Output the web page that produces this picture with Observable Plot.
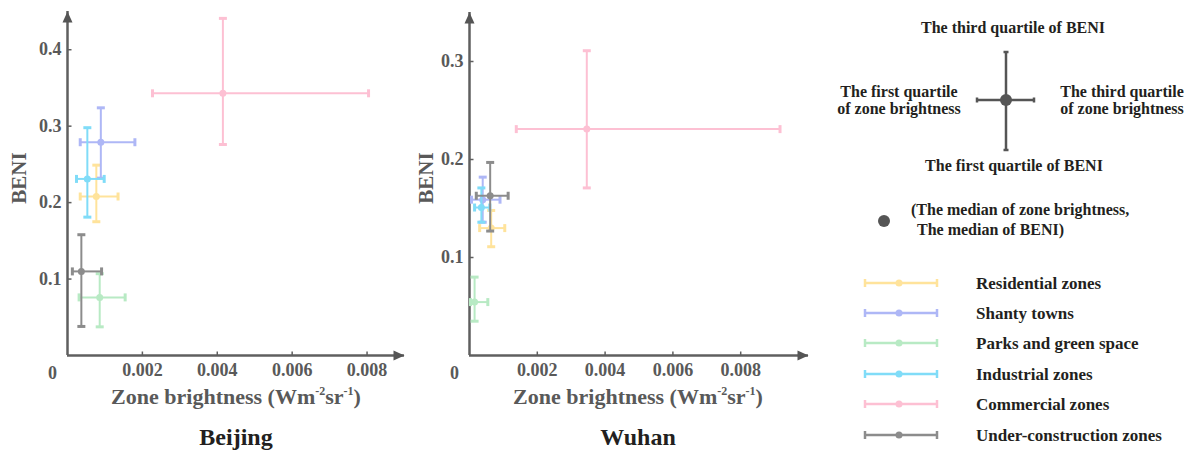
<!DOCTYPE html>
<html>
<head>
<meta charset="utf-8">
<script src="https://cdn.jsdelivr.net/npm/d3@7"></script>
<script src="https://cdn.jsdelivr.net/npm/@observablehq/plot@0.6"></script>
<style>
  html, body { margin: 0; padding: 0; background: #fff; }
  #wrap { position: relative; width: 1191px; height: 452px; overflow: hidden; font-family: "Liberation Serif", "Times New Roman", serif; }
  #wrap > div.p { position: absolute; top: 0; }
  #overlay { position: absolute; left: 0; top: 0; pointer-events: none; }
</style>
</head>
<body>
<div id="wrap">
  <div class="p" id="beijing" style="left:0px"></div>
  <div class="p" id="wuhan" style="left:420px"></div>
  <svg id="overlay" width="1191" height="452"></svg>
</div>
<script>
// ---- data ----
const categories = ["Residential zones", "Shanty towns", "Parks and green space", "Industrial zones", "Commercial zones", "Under-construction zones"];
const colors = ["#FFE39B", "#AEB7F6", "#B8EAC4", "#80DCF8", "#FDC0D3", "#8C8C8C"];

// Beijing
const bjMedX = [0.00077, 0.00089, 0.00086, 0.00053, 0.00415, 0.00037];
const bjQ1X  = [0.00034, 0.00034, 0.00031, 0.00024, 0.00227, 0.00013];
const bjQ3X  = [0.00135, 0.00180, 0.00154, 0.00098, 0.00804, 0.00091];
const bjMedY = [0.208, 0.279, 0.076, 0.231, 0.343, 0.110];
const bjQ1Y  = [0.175, 0.232, 0.0375, 0.181, 0.276, 0.038];
const bjQ3Y  = [0.249, 0.324, 0.107, 0.298, 0.441, 0.158];

// Wuhan
const whMedX = [0.00064, 0.00039, 0.00015, 0.00035, 0.00346, 0.00061];
const whQ1X  = [0.00030, 0.00006, 0.00003, 0.00015, 0.00138, 0.00020];
const whQ3X  = [0.00104, 0.00090, 0.00054, 0.00060, 0.00916, 0.00114];
const whMedY = [0.130, 0.159, 0.0545, 0.151, 0.231, 0.163];
const whQ1Y  = [0.111, 0.136, 0.035, 0.136, 0.171, 0.127];
const whQ3Y  = [0.148, 0.182, 0.080, 0.171, 0.311, 0.197];

const xTicks = [0.002, 0.004, 0.006, 0.008];
const bjYTicks = [0.1, 0.2, 0.3, 0.4];
const whYTicks = [0.1, 0.2, 0.3];
const cities = ["Beijing", "Wuhan"];

// ---- helpers ----
const AXIS = "#5f5f5f";
const TXT = "#595959";
const DARK = "#231f20";
const len = s => Math.sqrt(s / Math.PI);
const vbar = {draw(c, s) { const r = len(s); c.moveTo(0, -r); c.lineTo(0, r); }};
const hbar = {draw(c, s) { const r = len(s); c.moveTo(-r, 0); c.lineTo(r, 0); }};
const upTick = {draw(c, s) { const r = len(s); c.moveTo(0, 0); c.lineTo(0, -r); }};
const rightTick = {draw(c, s) { const r = len(s); c.moveTo(0, 0); c.lineTo(r, 0); }};
const triUp = {draw(c) { c.moveTo(0, 0); c.lineTo(-5, 11); c.lineTo(5, 11); c.closePath(); }};
const triRight = {draw(c) { c.moveTo(0, 0); c.lineTo(-11, -5); c.lineTo(-11, 5); c.closePath(); }};

function rowsOf(mx, q1x, q3x, my, q1y, q3y) {
  return categories.map((cat, i) => ({cat, color: colors[i], mx: mx[i], q1x: q1x[i], q3x: q3x[i], my: my[i], q1y: q1y[i], q3y: q3y[i]}));
}

function cityPlot(rows, o) {
  const barMarks = rows.flatMap(r => [
    Plot.link([r], {x1: "q1x", x2: "q3x", y1: "my", y2: "my", stroke: r.color, strokeWidth: 2}),
    Plot.link([r], {x1: "mx", x2: "mx", y1: "q1y", y2: "q3y", stroke: r.color, strokeWidth: 2}),
    Plot.dot([r], {x: "q1x", y: "my", symbol: vbar, r: 4, stroke: r.color, strokeWidth: 3, fill: "none"}),
    Plot.dot([r], {x: "q3x", y: "my", symbol: vbar, r: 4, stroke: r.color, strokeWidth: 3, fill: "none"}),
    Plot.dot([r], {x: "mx", y: "q1y", symbol: hbar, r: 4, stroke: r.color, strokeWidth: 3, fill: "none"}),
    Plot.dot([r], {x: "mx", y: "q3y", symbol: hbar, r: 4, stroke: r.color, strokeWidth: 3, fill: "none"}),
    Plot.dot([r], {x: "mx", y: "my", r: 3.5, fill: r.color, stroke: "none"})
  ]);
  return Plot.plot({
    width: o.width, height: 390,
    marginLeft: o.ml, marginRight: o.mr, marginTop: o.mt, marginBottom: 35,
    x: {domain: [0, o.xmax], label: null},
    y: {domain: [0, o.ymax], label: null},
    style: {fontFamily: "'Liberation Serif', 'Times New Roman', serif", fontWeight: "bold", color: TXT, background: "transparent", overflow: "visible"},
    marks: [
      Plot.axisX({ticks: xTicks, tickSize: 0, tickPadding: 8, fontSize: 18, tickFormat: d => String(d), label: null}),
      Plot.axisY({ticks: o.yTicks, tickSize: 0, tickPadding: 6, fontSize: 18, tickFormat: d => String(d), label: null}),
      Plot.text(["0"], {x: () => 0, y: () => 0, text: d => d, dx: -15, dy: 18, fontSize: 18, fill: TXT}),
      Plot.ruleX([0], {stroke: AXIS, strokeWidth: 2.5}),
      Plot.ruleY([0], {stroke: AXIS, strokeWidth: 2.5}),
      Plot.dot(xTicks, {x: d => d, y: () => 0, symbol: upTick, r: 4, stroke: AXIS, strokeWidth: 1.5, fill: "none"}),
      Plot.dot(o.yTicks, {x: () => 0, y: d => d, symbol: rightTick, r: 4, stroke: AXIS, strokeWidth: 1.5, fill: "none"}),
      Plot.dot([o.ymax], {x: () => 0, y: d => d, symbol: triUp, fill: "#555", stroke: "none"}),
      Plot.dot([o.xmax], {x: d => d, y: () => 0, symbol: triRight, fill: "#555", stroke: "none"}),
      ...barMarks
    ]
  });
}

document.getElementById("beijing").append(cityPlot(
  rowsOf(bjMedX, bjQ1X, bjQ3X, bjMedY, bjQ1Y, bjQ3Y),
  {width: 420, ml: 67, mr: 16, mt: 11, xmax: 0.009, ymax: 0.45, yTicks: bjYTicks}
));
document.getElementById("wuhan").append(cityPlot(
  rowsOf(whMedX, whQ1X, whQ3X, whMedY, whQ1Y, whQ3Y),
  {width: 400, ml: 49, mr: 12, mt: 12, xmax: 0.01, ymax: 0.35, yTicks: whYTicks}
));

// ---- overlay text & legend ----
const ov = d3.select("#overlay").style("font-family", "'Liberation Serif', 'Times New Roman', serif").style("font-weight", "bold");

const xLabelCenters = [236, 638];
const yLabelX = [26, 433];
cities.forEach((city, i) => {
  const t = ov.append("text").attr("x", xLabelCenters[i]).attr("y", 404).attr("text-anchor", "middle")
    .attr("font-size", 22).attr("fill", TXT);
  t.append("tspan").text("Zone brightness (Wm");
  t.append("tspan").attr("font-size", 12).attr("dy", -9).text("-2");
  t.append("tspan").attr("dy", 9).text("sr");
  t.append("tspan").attr("font-size", 12).attr("dy", -9).text("-1");
  t.append("tspan").attr("dy", 9).text(")");
  ov.append("text").attr("x", xLabelCenters[i]).attr("y", 445).attr("text-anchor", "middle")
    .attr("font-size", 24).attr("fill", DARK).text(city);
  ov.append("text").attr("transform", `translate(${yLabelX[i]},178) rotate(-90)`).attr("text-anchor", "middle")
    .attr("font-size", 21).attr("fill", TXT).text("BENI");
});

// schematic
const G = "#555";
const cx = 1006, cy = 100;
ov.append("line").attr("x1", cx).attr("x2", cx).attr("y1", 52).attr("y2", 150).attr("stroke", G).attr("stroke-width", 2.5);
ov.append("line").attr("x1", 977).attr("x2", 1034).attr("y1", cy).attr("y2", cy).attr("stroke", G).attr("stroke-width", 2.5);
[[cx - 2.5, 52, cx + 2.5, 52], [cx - 2.5, 150, cx + 2.5, 150], [977, cy - 2.5, 977, cy + 2.5], [1034, cy - 2.5, 1034, cy + 2.5]]
  .forEach(([a, b, c, d]) => ov.append("line").attr("x1", a).attr("y1", b).attr("x2", c).attr("y2", d).attr("stroke", G).attr("stroke-width", 2.5));
ov.append("circle").attr("cx", cx).attr("cy", cy).attr("r", 6).attr("fill", G);

const lt = (x, y, s, anchor = "middle") => ov.append("text").attr("x", x).attr("y", y).attr("text-anchor", anchor)
  .attr("font-size", 16).attr("fill", DARK).text(s);
lt(1013, 33, "The third quartile of BENI");
lt(1014, 171, "The first quartile of BENI");
lt(899, 97, "The first quartile");
lt(899, 113.5, "of zone brightness");
lt(1122, 97, "The third quartile");
lt(1122, 113.5, "of zone brightness");
ov.append("circle").attr("cx", 884).attr("cy", 221).attr("r", 6).attr("fill", G);
lt(911, 215, "(The median of zone brightness,", "start");
lt(917, 235, "The median of BENI)", "start");

const rowY = [283, 313, 343, 374, 404, 435];
categories.forEach((c, i) => {
  const y = rowY[i];
  ov.append("line").attr("x1", 864).attr("x2", 938).attr("y1", y).attr("y2", y).attr("stroke", colors[i]).attr("stroke-width", 2.5);
  ov.append("line").attr("x1", 865).attr("x2", 865).attr("y1", y - 4).attr("y2", y + 4).attr("stroke", colors[i]).attr("stroke-width", 2.5);
  ov.append("line").attr("x1", 937).attr("x2", 937).attr("y1", y - 4).attr("y2", y + 4).attr("stroke", colors[i]).attr("stroke-width", 2.5);
  ov.append("circle").attr("cx", 899).attr("cy", y).attr("r", 3.5).attr("fill", colors[i]);
  ov.append("text").attr("x", 976).attr("y", y + 5.5).attr("font-size", 17).attr("fill", DARK).text(c);
});
</script>
</body>
</html>
